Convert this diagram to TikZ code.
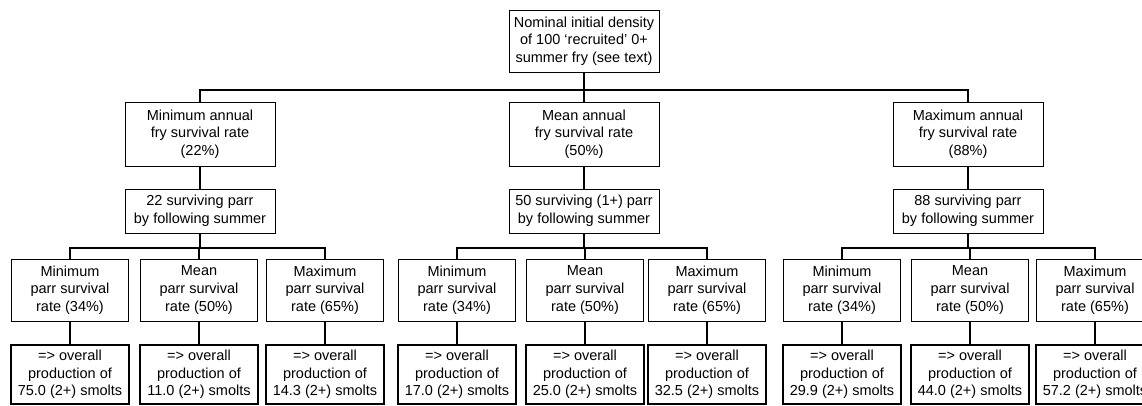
\documentclass[tikz,border=0pt]{standalone}
\usepackage{fontspec}
\setmainfont{Liberation Sans}
\begin{document}
\begin{tikzpicture}[x=1pt,y=-1pt,
  every node/.style={font={\fontsize{14.5}{17.6}\selectfont}, align=center, inner sep=0pt},
  boxbase/.style={draw=black, line width=1pt, rectangle},
  topbox/.style={boxbase, minimum width=150pt, minimum height=62pt},
  frybox/.style={boxbase, minimum width=150pt, minimum height=64pt},
  parrbox/.style={boxbase, minimum width=150pt, minimum height=44pt},
  ratebox/.style={boxbase, minimum width=117pt, minimum height=62pt},
  prodbox/.style={boxbase, line width=1.2pt, minimum width=118pt, minimum height=59pt},
  link/.style={draw=black, line width=1.1pt}]
\useasboundingbox (0,0) rectangle (1142,405);

\node[topbox] (top) at (584,41) {Nominal initial density\\of 100 `recruited' 0+\\summer fry (see text)};

\node[frybox] (fryA) at (200,134) {Minimum annual\\fry survival rate\\(22\%)};
\node[frybox] (fryB) at (584,134) {Mean annual\\fry survival rate\\(50\%)};
\node[frybox] (fryC) at (968,134) {Maximum annual\\fry survival rate\\(88\%)};

\node[parrbox] (parrA) at (200,211) {22 surviving parr\\by following summer};
\node[parrbox] (parrB) at (584,211) {50 surviving (1+) parr\\by following summer};
\node[parrbox] (parrC) at (968,211) {88 surviving parr\\by following summer};

% level 3
\node[ratebox] (rA1) at (70,290) {Minimum\\parr survival\\rate (34\%)};
\node[ratebox] (rA2) at (199,290) {Mean\\parr survival\\rate (50\%)};
\node[ratebox] (rA3) at (325,290) {Maximum\\parr survival\\rate (65\%)};
\node[ratebox] (rB1) at (457,290) {Minimum\\parr survival\\rate (34\%)};
\node[ratebox] (rB2) at (585,290) {Mean\\parr survival\\rate (50\%)};
\node[ratebox] (rB3) at (707,290) {Maximum\\parr survival\\rate (65\%)};
\node[ratebox] (rC1) at (842,290) {Minimum\\parr survival\\rate (34\%)};
\node[ratebox] (rC2) at (970,290) {Mean\\parr survival\\rate (50\%)};
\node[ratebox] (rC3) at (1095,290) {Maximum\\parr survival\\rate (65\%)};

% level 4
\node[prodbox] (pA1) at (70,374.5) {=> overall\\production of\\75.0 (2+) smolts};
\node[prodbox] (pA2) at (199,374.5) {=> overall\\production of\\11.0 (2+) smolts};
\node[prodbox] (pA3) at (325,374.5) {=> overall\\production of\\14.3 (2+) smolts};
\node[prodbox] (pB1) at (457,374.5) {=> overall\\production of\\17.0 (2+) smolts};
\node[prodbox] (pB2) at (585,374.5) {=> overall\\production of\\25.0 (2+) smolts};
\node[prodbox] (pB3) at (707,374.5) {=> overall\\production of\\32.5 (2+) smolts};
\node[prodbox] (pC1) at (842,374.5) {=> overall\\production of\\29.9 (2+) smolts};
\node[prodbox] (pC2) at (970,374.5) {=> overall\\production of\\44.0 (2+) smolts};
\node[prodbox] (pC3) at (1095,374.5) {=> overall\\production of\\57.2 (2+) smolts};

% connectors top -> fry
\coordinate (j0) at (584,90);
\draw[link] (top.south) -- (j0);
\draw[link] (fryA.north) |- (j0);
\draw[link] (fryB.north) -- (j0);
\draw[link] (fryC.north) |- (j0);

% fry -> parr
\draw[link] (fryA.south) -- (parrA.north);
\draw[link] (fryB.south) -- (parrB.north);
\draw[link] (fryC.south) -- (parrC.north);

% parr -> rates
\coordinate (jA) at (200,248);
\coordinate (jB) at (584,248);
\coordinate (jC) at (968,248);
\draw[link] (parrA.south) -- (jA);
\draw[link] (rA1.north) |- (jA);
\draw[link] (rA2.north) |- (jA);
\draw[link] (rA3.north) |- (jA);
\draw[link] (parrB.south) -- (jB);
\draw[link] (rB1.north) |- (jB);
\draw[link] (rB2.north) |- (jB);
\draw[link] (rB3.north) |- (jB);
\draw[link] (parrC.south) -- (jC);
\draw[link] (rC1.north) |- (jC);
\draw[link] (rC2.north) |- (jC);
\draw[link] (rC3.north) |- (jC);

% rates -> production
\foreach \g in {A,B,C}{
  \foreach \i in {1,2,3}{
    \draw[link] (r\g\i.south) -- (p\g\i.north);
  }
}
\end{tikzpicture}
\end{document}
